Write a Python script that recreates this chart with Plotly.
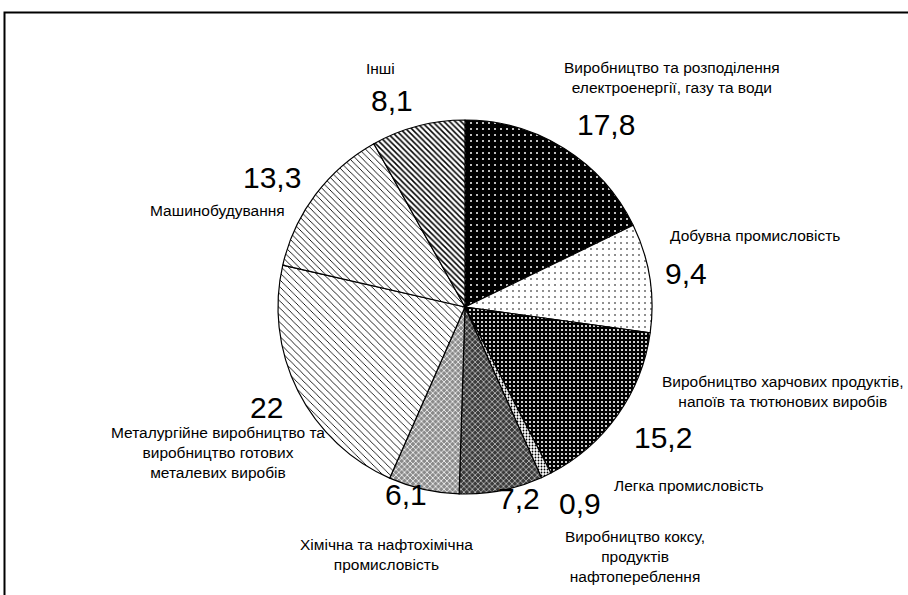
import plotly.graph_objects as go

labels = [
    "Виробництво та розподілення<br>електроенергії, газу та води",
    "Добувна промисловість",
    "Виробництво харчових продуктів,<br>напоїв та тютюнових виробів",
    "Легка промисловість",
    "Виробництво коксу,<br>продуктів<br>нафтопереблення",
    "Хімічна та нафтохімічна<br>промисловість",
    "Металургійне виробництво та<br>виробництво готових<br>металевих виробів",
    "Машинобудування",
    "Інші",
]
values = [17.8, 9.4, 15.2, 0.9, 7.2, 6.1, 22, 13.3, 8.1]
value_text = ["17,8", "9,4", "15,2", "0,9", "7,2", "6,1", "22", "13,3", "8,1"]

# label placement in pixels (centre x, centre y) for names and values
W, H = 908, 595
name_pos = [(672, 78), (755, 236), (783, 391), (689, 485), (635, 556),
            (386, 554), (218, 452), (217, 210), (380, 68)]
val_pos = [(606, 124), (686, 274), (663, 437), (580, 503), (519, 498),
           (406, 494), (266, 407), (272, 177), (392, 100)]

shapes_p = [".", ".", ".", ".", "x", "x", "\\", "\\", "\\"]
bg = ["black", "white", "black", "white", "#3a3a3a", "#8a8a8a", "white", "white", "white"]
fg = ["white", "black", "white", "black", "#e8e8e8", "white", "black", "black", "black"]
sz = [6, 6, 4, 3, 4, 4, 5, 4.5, 4]
sol = [0.09, 0.06, 0.22, 0.3, 0.3, 0.35, 0.17, 0.2, 0.38]

cx, cy, r = 465, 307, 187

fig = go.Figure(go.Pie(
    labels=labels, values=values, sort=False, direction="clockwise", rotation=0,
    textinfo="none", hoverinfo="label+value", showlegend=False,
    domain=dict(x=[(cx - r) / W, (cx + r) / W], y=[(H - cy - r) / H, (H - cy + r) / H]),
    marker=dict(
        colors=bg,
        line=dict(color="black", width=1.2),
        pattern=dict(shape=shapes_p, bgcolor=bg, fgcolor=fg, size=sz, solidity=sol),
    ),
))

annots = []
for lab, (x, y) in zip(labels, name_pos):
    annots.append(dict(x=x / W, y=1 - y / H, xref="paper", yref="paper", text=lab,
                       showarrow=False, font=dict(family="Liberation Sans, Arial", size=15.5, color="black"),
                       align="center", xanchor="center", yanchor="middle"))
for t, (x, y) in zip(value_text, val_pos):
    annots.append(dict(x=x / W, y=1 - y / H, xref="paper", yref="paper", text=t,
                       showarrow=False, font=dict(family="Liberation Sans, Arial", size=30, color="black"),
                       xanchor="center", yanchor="middle"))

fig.update_layout(
    width=W, height=H, margin=dict(l=0, r=0, t=0, b=0),
    paper_bgcolor="white", plot_bgcolor="white",
    annotations=annots,
    shapes=[dict(type="rect", xref="paper", yref="paper", x0=4.5 / W, x1=1.05,
                 y0=-0.05, y1=1 - 12.5 / H, line=dict(color="black", width=2))],
)
fig.write_html("out.html", config={"displayModeBar": False},
               post_script="document.body.style.margin='0px';")
